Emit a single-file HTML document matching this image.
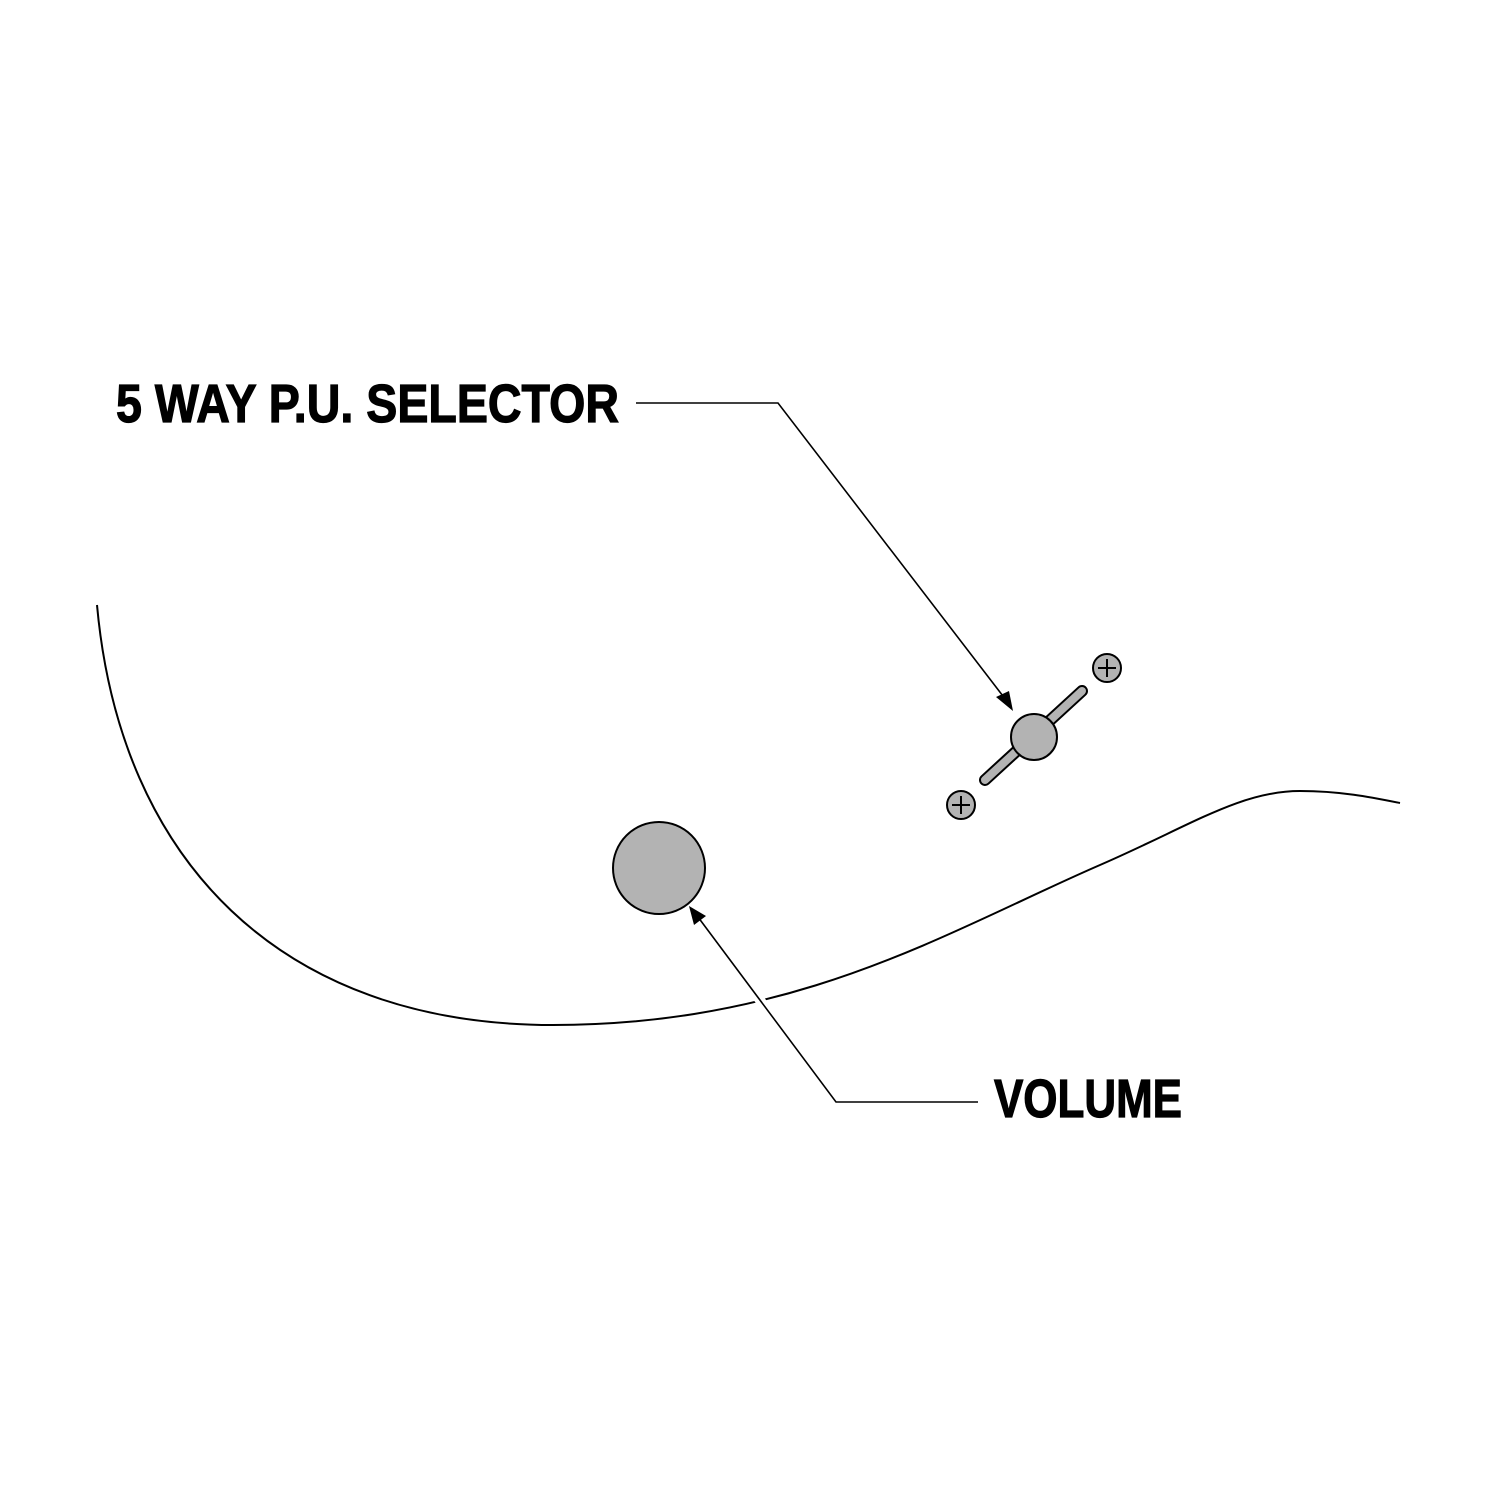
<!DOCTYPE html>
<html><head><meta charset="utf-8"><style>html,body{margin:0;padding:0;background:#fff}svg{display:block}</style></head>
<body>
<svg width="1500" height="1500" viewBox="0 0 1500 1500" xmlns="http://www.w3.org/2000/svg">
<rect width="1500" height="1500" fill="#fff"/>
<path d="M97,605 C120,860 280,1025 553,1025 C800,1025 950,930 1100,865 C1190,826 1240,791 1300,791 C1340,791 1370,797 1400,803" fill="none" stroke="#000" stroke-width="2"/>
<line x1="985" y1="780" x2="1082" y2="691" stroke="#000" stroke-width="12" stroke-linecap="round"/>
<line x1="985" y1="780" x2="1082" y2="691" stroke="#b3b3b3" stroke-width="8" stroke-linecap="round"/>
<circle cx="1034" cy="737" r="23" fill="#b3b3b3" stroke="#000" stroke-width="2"/>
<circle cx="961" cy="805" r="14" fill="#b3b3b3" stroke="#000" stroke-width="2"/>
<path d="M961,796 V814 M952,805 H970" stroke="#000" stroke-width="2"/>
<circle cx="1107" cy="668" r="14" fill="#b3b3b3" stroke="#000" stroke-width="2"/>
<path d="M1107,659 V677 M1098,668 H1116" stroke="#000" stroke-width="2"/>
<circle cx="659" cy="868" r="46" fill="#b3b3b3" stroke="#000" stroke-width="2"/>
<polyline points="636,403 778,403 1006,700" fill="none" stroke="#000" stroke-width="1.6"/>
<polygon points="1013,711 996,697 1009,691" fill="#000"/>
<line x1="836" y1="1102" x2="700" y2="920" stroke="#fff" stroke-width="10"/>
<polyline points="978,1102 836,1102 695,913" fill="none" stroke="#000" stroke-width="1.6"/>
<polygon points="689,906 706,916 694,925" fill="#000"/>
<text x="116" y="422" font-family="Liberation Sans, sans-serif" font-weight="bold" font-size="54" stroke="#000" stroke-width="1.2" textLength="503" lengthAdjust="spacingAndGlyphs">5 WAY P.U. SELECTOR</text>
<text x="994" y="1117" font-family="Liberation Sans, sans-serif" font-weight="bold" font-size="54" stroke="#000" stroke-width="1.2" textLength="188" lengthAdjust="spacingAndGlyphs">VOLUME</text>
</svg>
</body></html>
